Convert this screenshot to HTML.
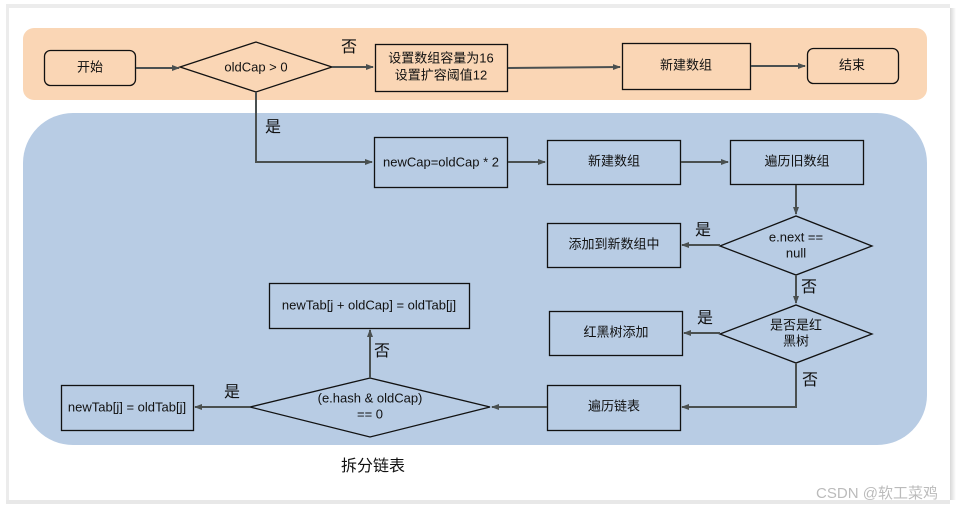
<!DOCTYPE html>
<html><head><meta charset="utf-8"><style>
body{margin:0;background:#fff;}
svg text{font-family:"Liberation Sans","Noto Sans CJK SC",sans-serif;font-size:13px;fill:#111;text-anchor:middle;dominant-baseline:middle;}
.l{font-size:16px;}
</style></head><body>
<svg width="963" height="512" viewBox="0 0 963 512" xmlns="http://www.w3.org/2000/svg">
<defs>
<marker id="a" markerWidth="8" markerHeight="8" refX="7" refY="4" orient="auto" markerUnits="userSpaceOnUse"><path d="M0,1 L8,4 L0,7 z" fill="#4a5050"/></marker>
<linearGradient id="sr" x1="0" x2="1"><stop offset="0" stop-color="#d8d8d8"/><stop offset="1" stop-color="#fff"/></linearGradient>
</defs>
<rect x="0" y="0" width="963" height="512" fill="#fff"/>
<rect x="950" y="8" width="6" height="492" fill="url(#sr)"/>
<rect x="6" y="4" width="944" height="4" fill="#ececec"/>
<rect x="6" y="4" width="3" height="496" fill="#ececec"/>
<rect x="6" y="500" width="944" height="4" fill="#e8e8e8"/>
<rect x="23" y="28" width="904" height="72" rx="11" fill="#FAD6B5"/>
<rect x="23" y="113" width="904" height="332" rx="50" fill="#B8CCE4"/>
<g fill="none" stroke="#111" stroke-width="1.3">
<rect x="44.5" y="50.5" width="91" height="35" rx="6"/>
<polygon points="180,67 256,42 332,67 256,92"/>
<rect x="375.5" y="44.5" width="132" height="47"/>
<rect x="622.5" y="43.5" width="128" height="46"/>
<rect x="807.5" y="48.5" width="91" height="35" rx="6"/>
<rect x="374.5" y="137.5" width="133" height="50"/>
<rect x="547.5" y="140.5" width="133" height="44"/>
<rect x="730.5" y="140.5" width="133" height="44"/>
<polygon points="720,246 796,216 872,246 796,275"/>
<rect x="547.5" y="223.5" width="133" height="44"/>
<polygon points="720,334 796,305 872,334 796,363"/>
<rect x="549.5" y="311.5" width="133" height="44"/>
<rect x="547.5" y="385.5" width="133" height="45"/>
<polygon points="250,407 370,378 490,407 370,437"/>
<rect x="269.5" y="283.5" width="200" height="45"/>
<rect x="61.5" y="385.5" width="132" height="45"/>
</g>
<g fill="none" stroke="#4a5050" stroke-width="2" marker-end="url(#a)">
<path d="M136,68 H179"/>
<path d="M332,67 H373"/>
<path d="M508,68 L620,67"/>
<path d="M751,66 H805"/>
<path d="M256,92 V162 H372"/>
<path d="M508,162 H545"/>
<path d="M681,162 H728"/>
<path d="M796,185 V214"/>
<path d="M720,245 H682"/>
<path d="M796,275 V303"/>
<path d="M720,333 H684"/>
<path d="M796,363 V407 H682"/>
<path d="M547,407 H492"/>
<path d="M370,378 V330"/>
<path d="M250,407 H195"/>
</g>
<text x="90" y="68">开始</text>
<text x="256" y="68">oldCap &gt; 0</text>
<text x="441" y="59">设置数组容量为16</text>
<text x="441" y="76">设置扩容阈值12</text>
<text x="686" y="66">新建数组</text>
<text x="852" y="66">结束</text>
<text x="441" y="163">newCap=oldCap * 2</text>
<text x="614" y="162">新建数组</text>
<text x="797" y="162">遍历旧数组</text>
<text x="796" y="238">e.next ==</text>
<text x="796" y="254">null</text>
<text x="614" y="245">添加到新数组中</text>
<text x="796" y="326">是否是红</text>
<text x="796" y="342">黑树</text>
<text x="616" y="333">红黑树添加</text>
<text x="614" y="407">遍历链表</text>
<text x="370" y="399">(e.hash &amp; oldCap)</text>
<text x="370" y="415">== 0</text>
<text x="369" y="306">newTab[j + oldCap] = oldTab[j]</text>
<text x="127" y="408">newTab[j] = oldTab[j]</text>
<text class="l" x="349" y="48">否</text>
<text class="l" x="273" y="128">是</text>
<text class="l" x="703" y="231">是</text>
<text class="l" x="809" y="288">否</text>
<text class="l" x="705" y="319">是</text>
<text class="l" x="810" y="381">否</text>
<text class="l" x="382" y="352">否</text>
<text class="l" x="232" y="393">是</text>
<text class="l" x="373" y="467">拆分链表</text>
<text x="877" y="494" style="font-size:15px;fill:#bbb">CSDN @软工菜鸡</text>
</svg>
</body></html>
